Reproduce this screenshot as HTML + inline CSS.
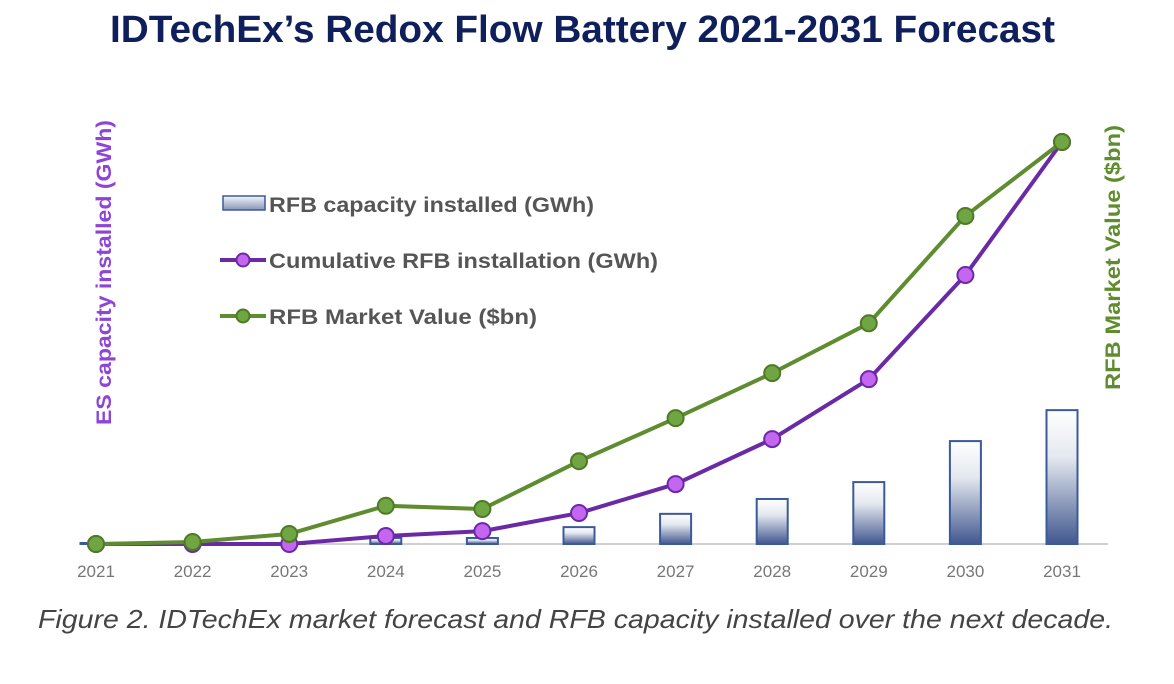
<!DOCTYPE html>
<html><head><meta charset="utf-8"><style>
html,body{margin:0;padding:0;background:#fff;width:1174px;height:684px;overflow:hidden}
svg{display:block}
</style></head><body>
<svg id="chart" width="1174" height="684" xmlns="http://www.w3.org/2000/svg" font-family="'Liberation Sans', sans-serif">
<defs>
<linearGradient id="barGrad" x1="0" y1="0" x2="0" y2="1">
<stop offset="0" stop-color="#ffffff"/><stop offset="0.35" stop-color="#e4e8ef"/><stop offset="1" stop-color="#41578f"/>
</linearGradient>
<linearGradient id="legGrad" x1="0" y1="0" x2="0" y2="1">
<stop offset="0" stop-color="#f4f6fa"/><stop offset="1" stop-color="#8595b8"/>
</linearGradient>
</defs>
<text x="110" y="42" font-size="38" font-weight="bold" fill="#0f1f5c" textLength="945" lengthAdjust="spacingAndGlyphs">IDTechEx’s Redox Flow Battery 2021-2031 Forecast</text>
<text transform="translate(111,425) rotate(-90)" font-size="21" font-weight="bold" fill="#8e44d6" textLength="305" lengthAdjust="spacingAndGlyphs">ES capacity installed (GWh)</text>
<text transform="translate(1120,390) rotate(-90)" font-size="21" font-weight="bold" fill="#5e8c2e" textLength="265" lengthAdjust="spacingAndGlyphs">RFB Market Value ($bn)</text>
<line x1="80" y1="544" x2="1108" y2="544" stroke="#d0d0d0" stroke-width="2"/>
<g id="bars"></g><g id="lines"></g><g id="xticks"></g>
<g>
<rect x="223" y="196" width="42" height="14" fill="url(#legGrad)" stroke="#3b5a9a" stroke-width="1.5"/>
<text x="269" y="212" font-size="21" font-weight="bold" fill="#555" textLength="325" lengthAdjust="spacingAndGlyphs">RFB capacity installed (GWh)</text>
<line x1="220" y1="260" x2="266" y2="260" stroke="#6a2aa6" stroke-width="4"/>
<circle cx="243" cy="260" r="6.5" fill="#c566f0" stroke="#6a2aa6" stroke-width="2"/>
<text x="269" y="268" font-size="21" font-weight="bold" fill="#555" textLength="389" lengthAdjust="spacingAndGlyphs">Cumulative RFB installation (GWh)</text>
<line x1="220" y1="316" x2="266" y2="316" stroke="#5e8c2e" stroke-width="4"/>
<circle cx="243" cy="316" r="6.5" fill="#6fa543" stroke="#4e7a25" stroke-width="2"/>
<text x="269" y="324" font-size="21" font-weight="bold" fill="#555" textLength="268" lengthAdjust="spacingAndGlyphs">RFB Market Value ($bn)</text>
</g>
<text x="38" y="628" font-size="26" font-style="italic" fill="#444" textLength="1075" lengthAdjust="spacingAndGlyphs">Figure 2. IDTechEx market forecast and RFB capacity installed over the next decade.</text>
</svg>
<script>
const years = ['2021','2022','2023','2024','2025','2026','2027','2028','2029','2030','2031'];
const capacity = [0.2,0.2,0.2,1.5,1.5,4.2,7.5,11.2,15.4,25.6,33.3];
const cumulative = [0,0,0,2,3.2,7.7,14.9,26.1,41,66.9,100];
const marketValue = [0,0.5,2.5,9.5,8.7,20.6,31.3,42.5,54.9,81.6,100];
const yMax = 100;
const NS='http://www.w3.org/2000/svg';
const x0=96, step=96.6, base=544, plotH=402;
function xs(i){return x0+i*step;}
function ys(v){return base-v/yMax*plotH;}
function mk(tag,attrs,parent){const e=document.createElementNS(NS,tag);for(const k in attrs)e.setAttribute(k,attrs[k]);parent.appendChild(e);return e;}
const gb=document.getElementById('bars'), gl=document.getElementById('lines'), gx=document.getElementById('xticks');
capacity.forEach((v,i)=>{
  const h=Math.max(base-ys(v),1);
  const r=mk('rect',{x:xs(i)-15.5,y:base-h,width:31,height:h,fill:'url(#barGrad)',stroke:'#3b5a9a','stroke-width':2},gb);
  
  
});
function series(vals,stroke,fill,mstroke,name){
  const p=mk('polyline',{points:vals.map((v,i)=>xs(i)+','+ys(v)).join(' '),fill:'none',stroke:stroke,'stroke-width':4,'stroke-linejoin':'round'},gl);
  
  
  vals.forEach((v,i)=>{
    const c=mk('circle',{cx:xs(i),cy:ys(v),r:8,fill:fill,stroke:mstroke,'stroke-width':2},gl);
    
    
  });
}
series(cumulative,'#6a2aa6','#c566f0','#6a2aa6','cumulative');
series(marketValue,'#5e8c2e','#6fa543','#4e7a25','market-value');
years.forEach((y,i)=>{
  const t=mk('text',{x:xs(i),y:577,'text-anchor':'middle','font-size':17,fill:'#777'},gx);
  t.textContent=y;
  
  
});
</script>
</body></html>
